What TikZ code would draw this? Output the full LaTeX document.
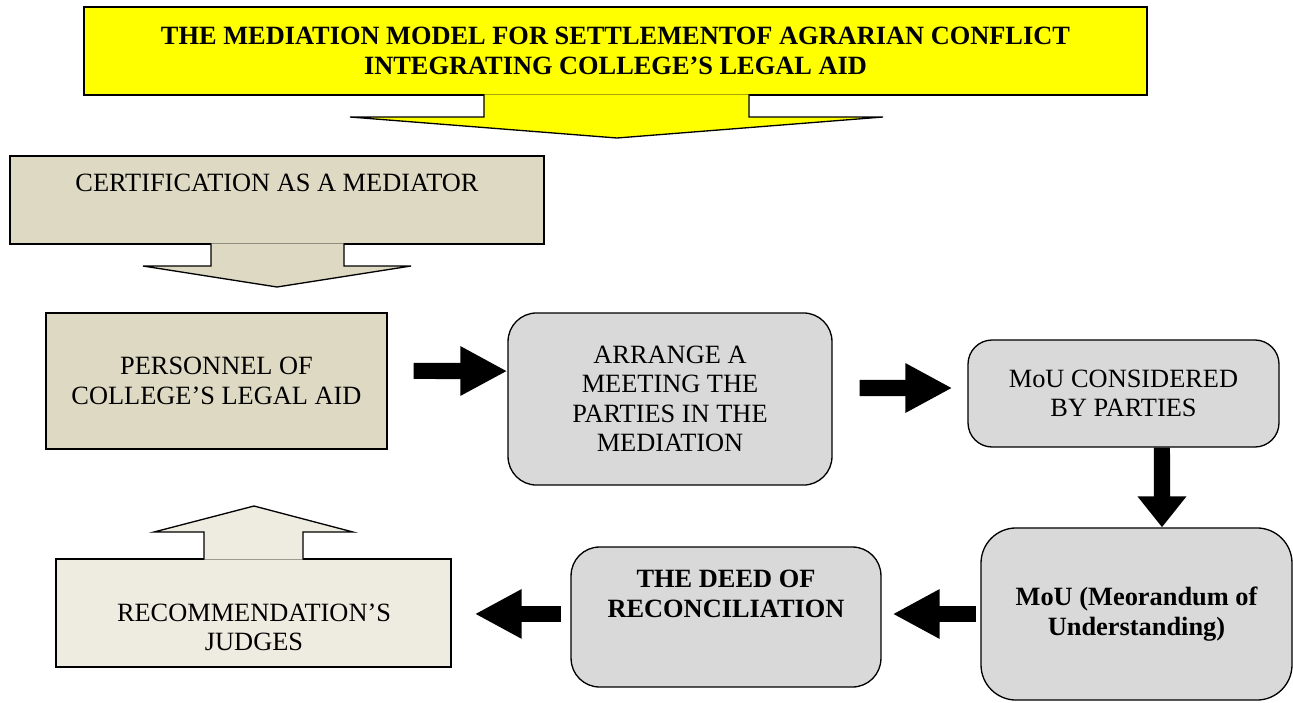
\documentclass[tikz,border=0pt]{standalone}
\usepackage{fontspec}
\setmainfont{Liberation Serif}
\usetikzlibrary{arrows.meta}

\definecolor{titleyellow}{HTML}{FFFF00}
\definecolor{tanfill}{HTML}{DDD9C3}
\definecolor{tanlight}{HTML}{EEECE1}
\definecolor{greyfill}{HTML}{D9D9D9}

\tikzset{
    boxtext/.style={font=\fontsize{12}{13.3}\selectfont, align=center},
    plainbox/.style={draw, semithick, inner sep=0pt, boxtext},
    roundbox/.style={plainbox, fill=greyfill, rounded corners=13pt},
    fat/.style={line width=7.3pt, -{Triangle[length=21.4pt, width=21pt]}},
}

\begin{document}
\begin{tikzpicture}[x=0.455pt, y=-0.455pt, semithick]

    \useasboundingbox (0,0) rectangle (1293,702);

    % The title callout
    \node[plainbox, fill=titleyellow, minimum width=483.7pt, minimum height=40pt,
          font=\fontsize{12}{13.5}\selectfont\bfseries] (title) at (615.5,51)
        {THE MEDIATION MODEL FOR SETTLEMENTOF AGRARIAN CONFLICT\\INTEGRATING COLLEGE’S LEGAL AID};
    \filldraw[fill=titleyellow] (484,94.3) -- (484,117) -- (350,117) -- (617,138)
        -- (883,117) -- (749,117) -- (749,94.3);

    % Certification callout
    \node[plainbox, fill=tanfill, minimum width=243pt, minimum height=40pt] (cert) at (277,200) {};
    \filldraw[fill=tanfill] (211,243.3) -- (211,266) -- (143,266) -- (277,287)
        -- (411,266) -- (344,266) -- (344,243.3);
    \node[boxtext] (certtext) at (277,183) {CERTIFICATION AS A MEDIATOR};

    % Recommendation callout
    \node[plainbox, fill=tanlight, minimum width=179.7pt, minimum height=49.1pt] (rec) at (253.5,613) {};
    \filldraw[fill=tanlight] (204,559.7) -- (204,532) -- (154,532) -- (254,506)
        -- (353,532) -- (303,532) -- (303,559.7);
    \node[boxtext] (rectext) at (254,627) {RECOMMENDATION’S\\JUDGES};

    % The steps
    \node[plainbox, fill=tanfill, minimum width=155.2pt, minimum height=61.9pt] (pers) at (216.5,381)
        {PERSONNEL OF\\COLLEGE’S LEGAL AID};
    \node[roundbox, minimum width=147.4pt, minimum height=78.3pt] (arr) at (670,399)
        {ARRANGE A\\MEETING THE\\PARTIES IN THE\\MEDIATION};
    \node[roundbox, rounded corners=11pt, minimum width=141.5pt, minimum height=48.7pt] (cons) at (1123.5,393.5)
        {MoU CONSIDERED\\BY PARTIES};
    \node[roundbox, rounded corners=16pt, minimum width=141.5pt, minimum height=78.3pt,
          font=\fontsize{12}{13.5}\selectfont\bfseries] (mou) at (1136.5,614)
        {MoU (Meorandum of\\Understanding)};
    \node[roundbox, minimum width=141pt, minimum height=63.7pt] (deed) at (726,617) {};
    \node[boxtext, font=\fontsize{12}{13.5}\selectfont\bfseries] (deedtext) at (726,594)
        {THE DEED OF\\RECONCILIATION};

    % The block arrows
    \draw[fat, shorten <=11.8pt] ([yshift=4.6pt]pers.east) -- ([yshift=12.7pt]arr.west);
    \draw[fat, shorten <=12.3pt, shorten >=6.8pt] ([yshift=5pt]arr.east) -- ([yshift=2.5pt]cons.west);
    \draw[line width=7.3pt, -{Triangle[length=14.1pt, width=21.4pt]}]
        ([xshift=17.5pt]cons.south) -- ([xshift=11.6pt]mou.north);
    \draw[fat, shorten <=1.8pt, shorten >=5pt] (mou.west) -- (deed.east |- mou.west);
    \draw[fat, shorten <=4.5pt, shorten >=10.5pt] ([yshift=1.4pt]deed.west) -- ([yshift=1.4pt]deed.west -| rec.east);

\end{tikzpicture}
\end{document}
